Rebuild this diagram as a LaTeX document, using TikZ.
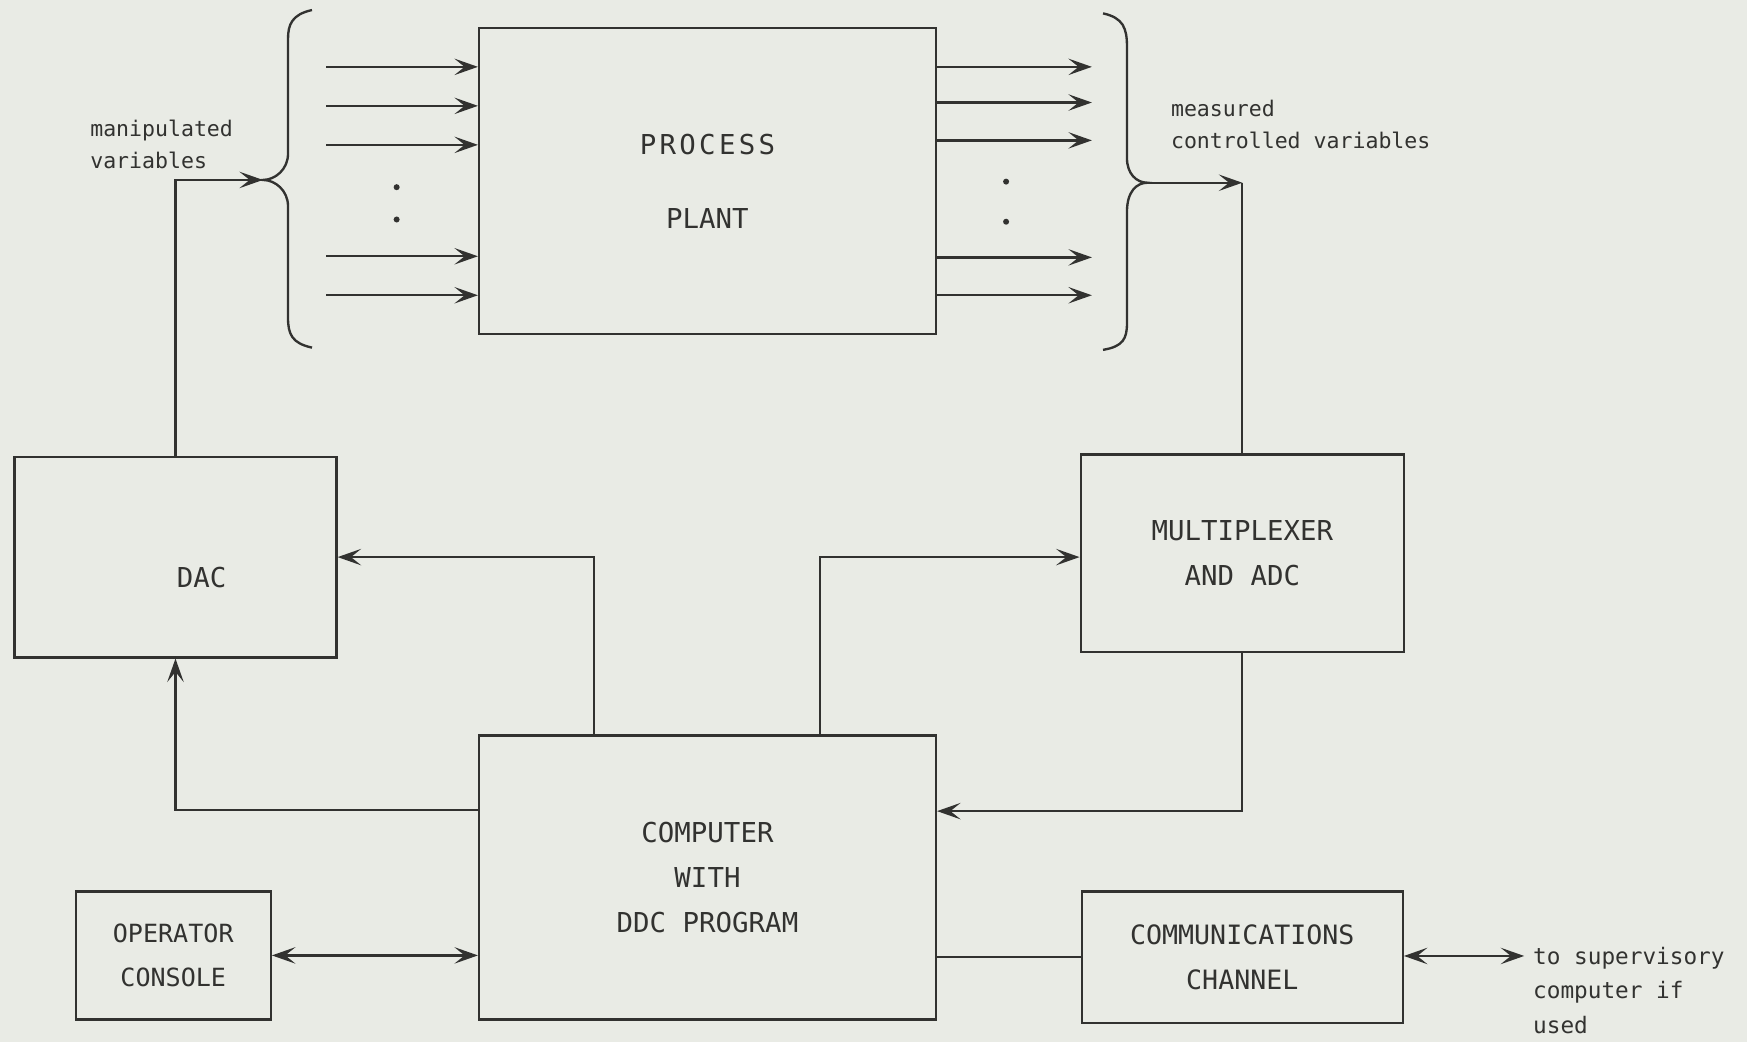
\documentclass[tikz,border=0pt]{standalone}
\usepackage{fontspec}
\setmainfont{DejaVu Sans Mono}
\usetikzlibrary{positioning,arrows.meta}
\definecolor{paper}{RGB}{233,235,229}
\definecolor{ink}{RGB}{50,50,48}

\begin{document}
\begin{tikzpicture}[>={Stealth[length=6pt,width=4.2pt,inset=2.6pt]}, node distance=2cm and 2cm, on grid, color=ink, line width=0.6pt,
    block/.style={draw, align=center, font=\fontsize{7}{11.4}\selectfont},
    note/.style={align=left, inner sep=0pt, anchor=west, font=\fontsize{5.5}{8.3}\selectfont}]
\path[use as bounding box, fill=paper] (0,0) rectangle (15.68,-9.35);

\node[block, minimum width=4.1cm, minimum height=2.75cm] (plant) at (6.35,-1.625) {\addfontfeature{LetterSpace=12}PROCESS\\[7.6pt]PLANT};
\node[block, minimum width=4.1cm, minimum height=2.55cm, below=6.25cm of plant] (comp) {COMPUTER\\WITH\\DDC PROGRAM};
\node[block, minimum width=2.89cm, minimum height=1.8cm, below left=3.375cm and 4.775cm of plant,
    label={[xshift=0.235cm, yshift=-0.18cm, font=\fontsize{7}{11.4}\selectfont]center:DAC}] (dac) {};
\node[block, minimum width=2.9cm, minimum height=1.77cm, below right=3.34cm and 4.8cm of plant] (mux) {MULTIPLEXER\\AND ADC};
\node[block, minimum width=1.75cm, minimum height=1.15cm, below left=0.7cm and 4.795cm of comp,
    font=\fontsize{6.4}{11.2}\selectfont] (console) {OPERATOR\\CONSOLE};
\node[block, minimum width=2.88cm, minimum height=1.18cm, below=3.625cm of mux,
    font=\fontsize{6.8}{11.4}\selectfont] (comm) {COMMUNICATIONS\\CHANNEL};

% braces
\coordinate (lt) at (2.36,-1.615);
\draw (2.80,-0.09) .. controls (2.62,-0.13) and (2.585,-0.22) .. (2.585,-0.35) -- (2.585,-1.38)
  .. controls (2.585,-1.52) and (2.47,-1.615) .. (lt)
  .. controls (2.47,-1.615) and (2.585,-1.71) .. (2.585,-1.85) -- (2.585,-2.85)
  .. controls (2.585,-3.0) and (2.62,-3.08) .. (2.80,-3.12);
\coordinate (rt) at (10.30,-1.64);
\draw (9.90,-0.12) .. controls (10.08,-0.16) and (10.115,-0.25) .. (10.115,-0.42) -- (10.115,-1.42)
  .. controls (10.115,-1.56) and (10.20,-1.64) .. (rt)
  .. controls (10.20,-1.64) and (10.115,-1.72) .. (10.115,-1.90) -- (10.115,-2.90)
  .. controls (10.115,-3.04) and (10.08,-3.11) .. (9.90,-3.14);

% plant inputs and outputs
\foreach \y [count=\i] in {0.60,0.95,1.30,2.30,2.65}
  {\coordinate (in\i) at (2.93,-\y);
   \draw[->] (in\i) -- (in\i -| plant.west);}
\foreach \y [count=\i] in {0.60,0.92,1.26,2.31,2.65}
  {\coordinate (out\i) at (9.80,-\y);
   \draw[->] (out\i -| plant.east) -- (out\i);}
\fill (3.56,-1.68) circle (0.027) (3.56,-1.97) circle (0.027);
\fill (9.03,-1.63) circle (0.027) (9.03,-1.99) circle (0.027);

\draw[->] (dac.north) |- (lt);
\draw[->] (rt) -- (rt -| mux.north);
\draw (rt -| mux.north) -- (mux.north);
\draw[->] ([xshift=-1.02cm]comp.north) |- (dac.east);
\draw[->] ([yshift=0.605cm]comp.west) -| (dac.south);
\draw[->] ([xshift=1.01cm]comp.north) |- ([yshift=-0.035cm]mux.west);
\draw[->] (mux.south) |- ([yshift=0.595cm]comp.east);
\draw[<->] (console.east) -- (console.east -| comp.west);
\draw (comp.east |- comm.west) -- (comm.west);
\coordinate (sup) at (13.68,-8.58);
\draw[<->] (comm.east |- sup) -- (sup);

\node[note] (manip) at (0.80,-1.295) {manipulated\\variables};
\node[note] (meas) at (10.50,-1.115) {measured\\controlled variables};
\node[note, font=\fontsize{5.8}{8.8}\selectfont] (suptext) at (13.75,-8.89) {to supervisory\\computer if\\used};
\end{tikzpicture}
\end{document}
